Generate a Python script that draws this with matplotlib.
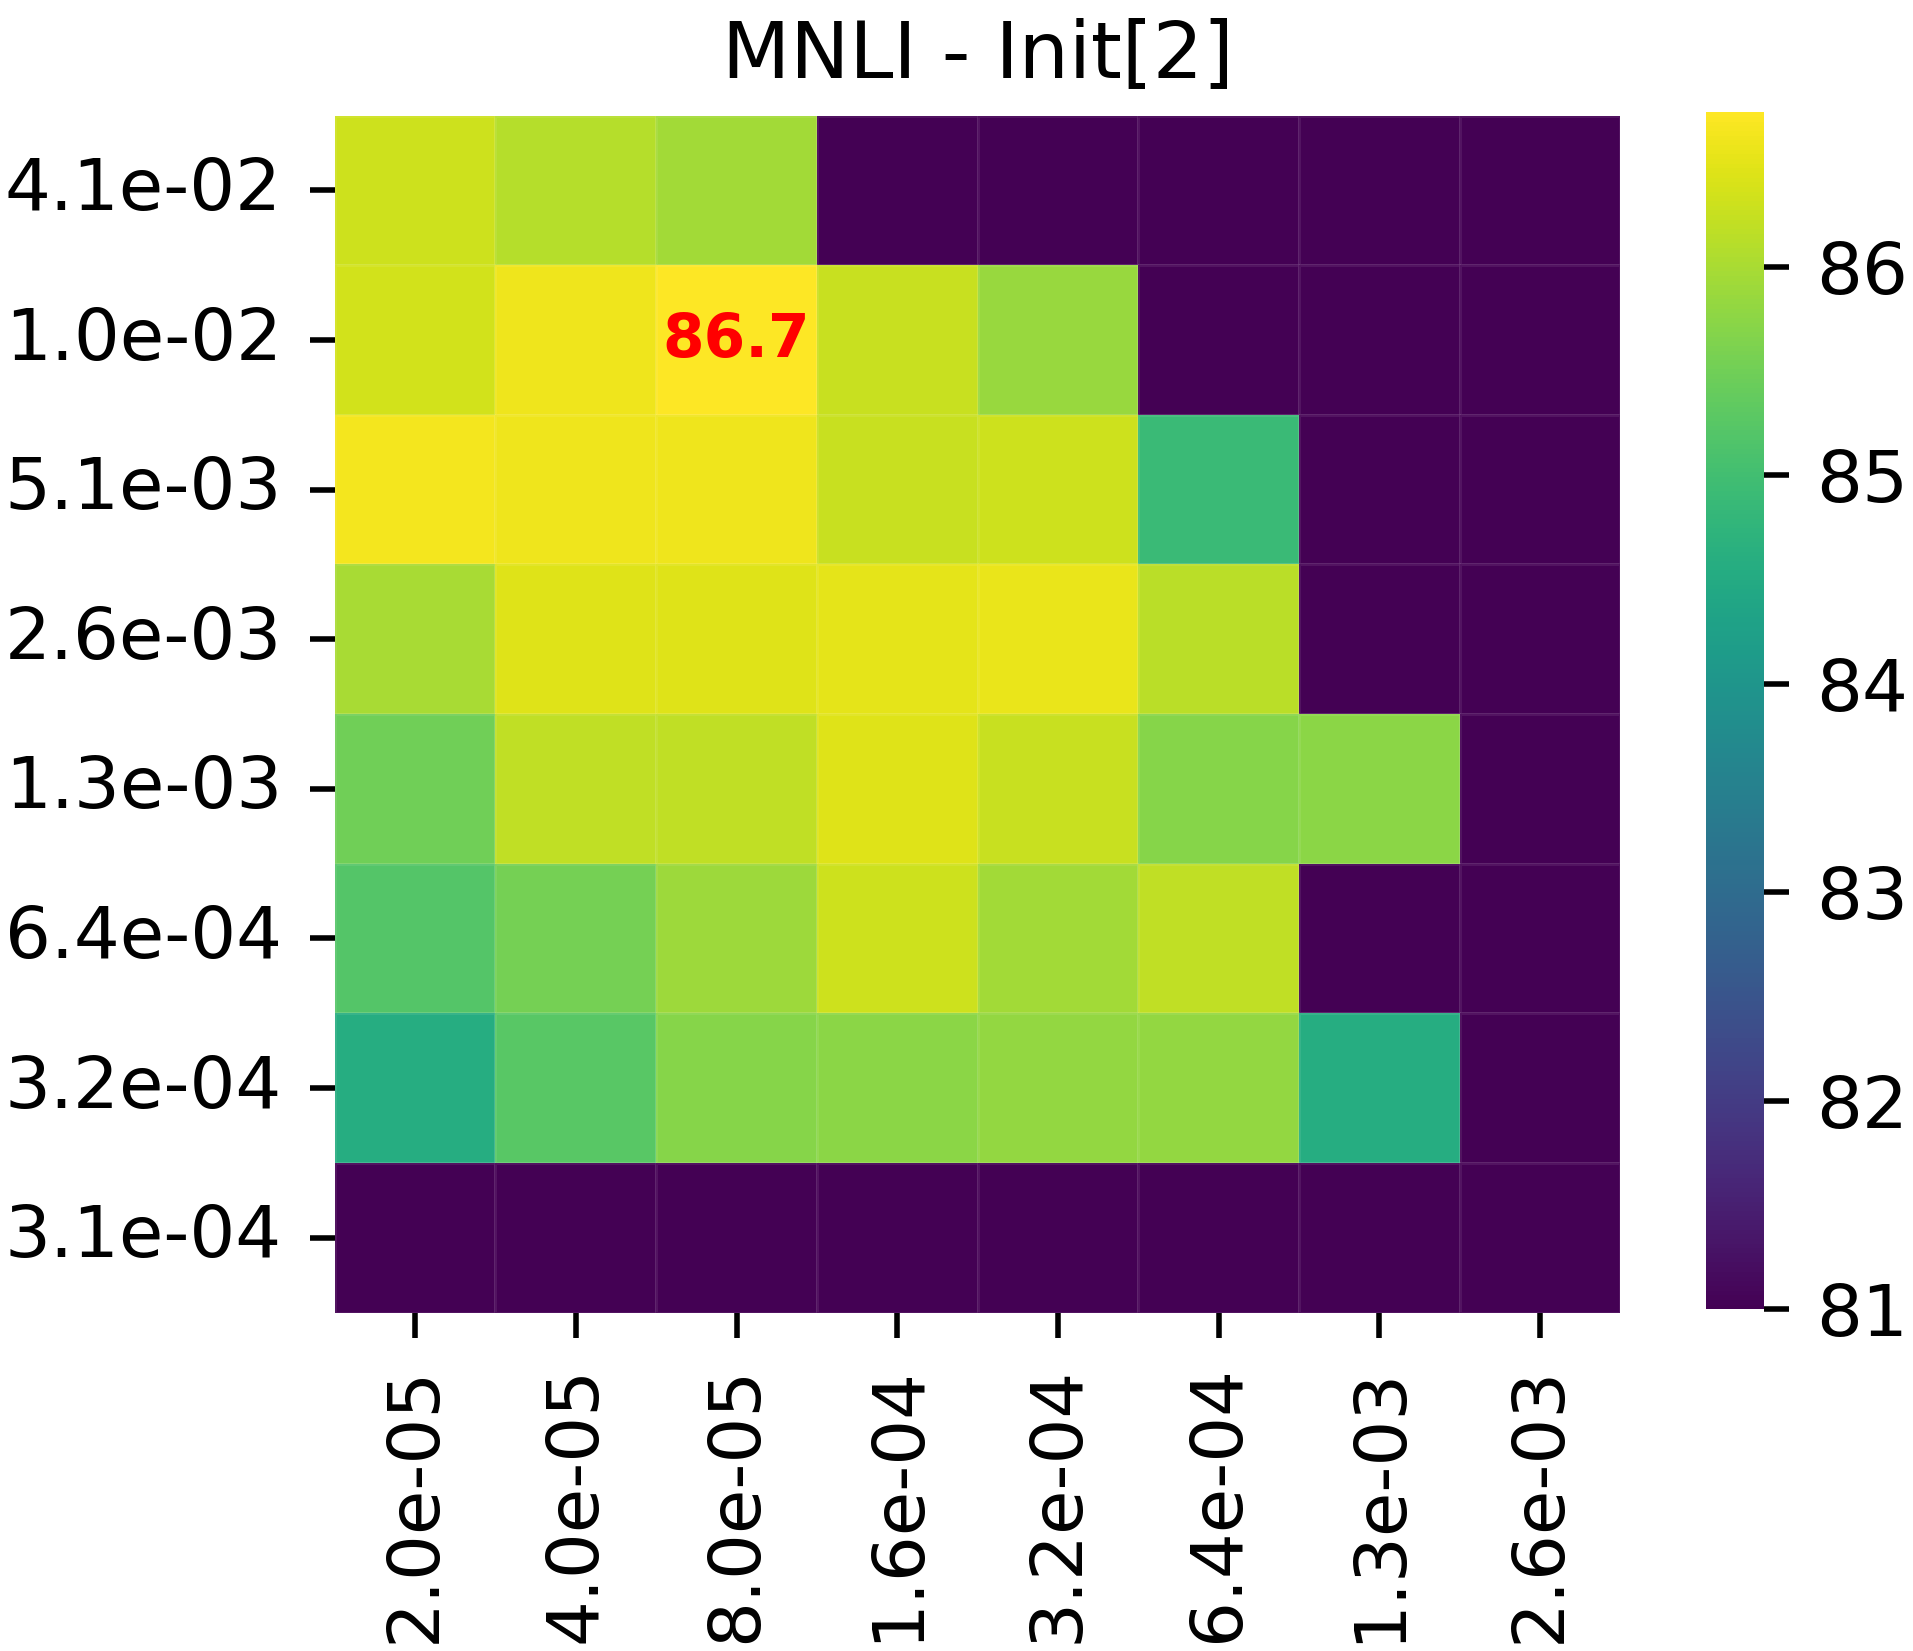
import numpy as np
import seaborn as sns
from matplotlib import pyplot as plt

# learning rates (columns) and the other hyper-parameter (rows)
col_labels = ['2.0e-05', '4.0e-05', '8.0e-05', '1.6e-04', '3.2e-04', '6.4e-04', '1.3e-03', '2.6e-03']
row_labels = ['4.1e-02', '1.0e-02', '5.1e-03', '2.6e-03', '1.3e-03', '6.4e-04', '3.2e-04', '3.1e-04']

# accuracy, failed runs are far below the colour floor
acc_r0 = [86.30, 86.10, 85.95, 35.4, 35.4, 35.4, 35.4, 35.4]
acc_r1 = [86.35, 86.60, 86.74, 86.25, 85.85, 35.4, 35.4, 35.4]
acc_r2 = [86.65, 86.60, 86.60, 86.25, 86.30, 84.90, 35.4, 35.4]
acc_r3 = [86.00, 86.45, 86.45, 86.50, 86.55, 86.15, 35.4, 35.4]
acc_r4 = [85.50, 86.20, 86.20, 86.45, 86.25, 85.70, 85.75, 35.4]
acc_r5 = [85.20, 85.55, 85.90, 86.30, 85.95, 86.20, 35.4, 35.4]
acc_r6 = [84.55, 85.25, 85.70, 85.75, 85.80, 85.80, 84.55, 35.4]
acc_r7 = [35.4, 35.4, 35.4, 35.4, 35.4, 35.4, 35.4, 35.4]

data = np.array([acc_r0, acc_r1, acc_r2, acc_r3, acc_r4, acc_r5, acc_r6, acc_r7])

sns.set_style('ticks')
plt.rcParams['font.family'] = ['DejaVu Sans']
plt.rcParams['text.color'] = 'black'
plt.rcParams['xtick.color'] = 'black'
plt.rcParams['ytick.color'] = 'black'

fig = plt.figure(figsize=(19.13, 16.51), dpi=100)
ax = fig.add_axes([0.175, 0.205, 0.672, 0.725])
cax = fig.add_axes([0.892, 0.207, 0.030, 0.725])

annot = np.full(data.shape, '', dtype=object)
i, j = np.unravel_index(np.argmax(data), data.shape)
annot[i, j] = '%.1f' % data[i, j]

sns.heatmap(data, ax=ax, cbar_ax=cax, cmap='viridis', vmin=81, vmax=data.max(),
            annot=annot, fmt='', xticklabels=col_labels, yticklabels=row_labels,
            linewidths=0.8, linecolor=(1, 1, 1, 0.08),
            annot_kws={'color': 'red', 'fontweight': 'bold', 'fontsize': 43})

ax.set_title('MNLI - Init[2]', fontsize=57, pad=28, color='black')
ax.tick_params(axis='both', labelsize=52, length=18, width=4, pad=20)
plt.setp(ax.get_xticklabels(), rotation=90)
plt.setp(ax.get_yticklabels(), rotation=0)

cax.tick_params(labelsize=52, length=18, width=4, pad=20)
cax.set_yticks([81, 82, 83, 84, 85, 86])
for s in cax.spines.values():
    s.set_visible(False)

fig.savefig('out.png', dpi=100)
